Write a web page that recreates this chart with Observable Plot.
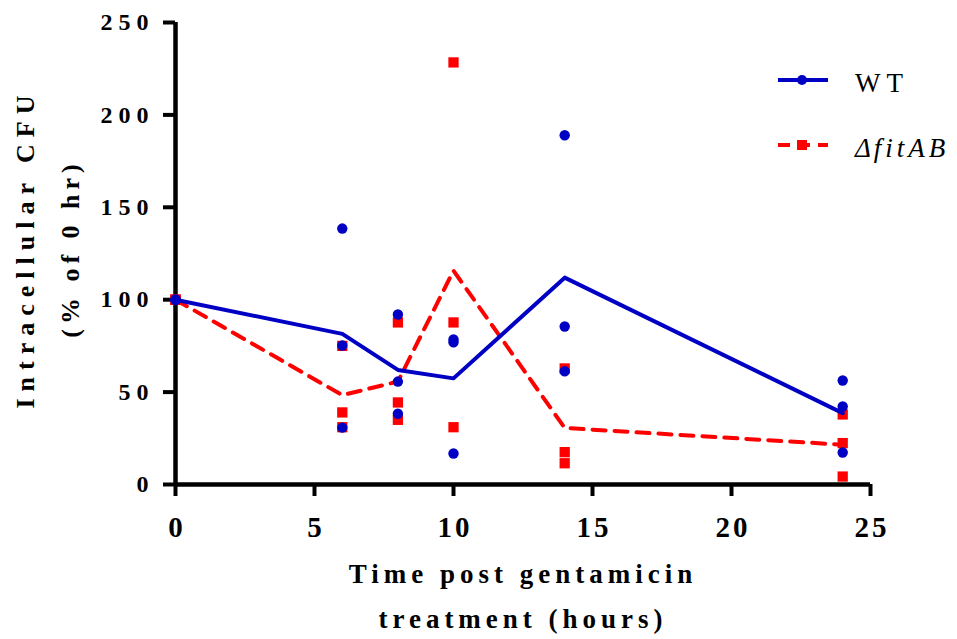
<!DOCTYPE html>
<html>
<head>
<meta charset="utf-8">
<script src="https://cdn.jsdelivr.net/npm/d3@7"></script>
<script src="https://cdn.jsdelivr.net/npm/@observablehq/plot@0.6"></script>
<style>
  html, body { margin: 0; padding: 0; background: #fff; }
  #wrap { position: relative; width: 957px; height: 639px; }
  #legend { position: absolute; left: 0; top: 0; width: 957px; height: 639px; pointer-events: none; }
  .lg-text { position: absolute; font-family: "Liberation Serif", "DejaVu Serif", "Noto Serif", serif; font-size: 27px; color: #000; line-height: 1; white-space: nowrap; }
  #chart svg text { font-family: "Liberation Serif", "DejaVu Serif", "Noto Serif", serif !important; }
</style>
</head>
<body>
<div id="wrap">
  <div id="chart"></div>
  <svg id="legend" width="957" height="639"></svg>
  <div class="lg-text" style="left:855px; top:70px; letter-spacing:6px;">WT</div>
  <div class="lg-text" style="left:855px; top:135px; font-style:italic; letter-spacing:3px;">Δ<span style="letter-spacing:4px">fitA</span>B</div>
</div>
<script>
// ---- data ----
const times = [0, 6, 8, 10, 14, 24];
const wtRep1 = [100, 138.5, 92.0, 77.0, 189.0, 56.3];
const wtRep2 = [100, 75.2, 55.7, 78.5, 85.5, 42.2];
const wtRep3 = [100, 30.8, 38.3, 16.8, 61.3, 17.3];
const fitRep1 = [100, 75.0, 87.7, 228.4, 62.8, 37.9];
const fitRep2 = [100, 39.0, 44.4, 87.7, 17.5, 22.4];
const fitRep3 = [100, 31.0, 35.0, 31.0, 11.5, 4.3];
const xTicks = [0, 5, 10, 15, 20, 25];
const yTicks = [0, 50, 100, 150, 200, 250];
const seriesNames = ["WT", "ΔfitAB"];

const blue = "#0000C4";
const red = "#FF0000";

function rows(series, reps) {
  const out = [];
  reps.forEach(rep => rep.forEach((v, i) => out.push({series, time: times[i], value: v})));
  return out;
}
const wt = rows(seriesNames[0], [wtRep1, wtRep2, wtRep3]);
const fit = rows(seriesNames[1], [fitRep1, fitRep2, fitRep3]);

const serif = "'Liberation Serif', 'DejaVu Serif', 'Noto Serif', serif";

const chart = Plot.plot({
  width: 957,
  height: 639,
  marginLeft: 175,
  marginRight: 87,
  marginTop: 22,
  marginBottom: 155,
  style: {fontFamily: serif, background: "white", overflow: "visible"},
  x: {domain: [0, 25]},
  y: {domain: [0, 250]},
  marks: [
    Plot.axisY({ticks: yTicks, tickSize: 12, tickPadding: 9, strokeWidth: 4, stroke: "#000",
      fontSize: 24, fontWeight: "bold", fill: "#000", label: null}),
    Plot.axisX({ticks: xTicks, tickSize: 12, tickPadding: 20, strokeWidth: 4, stroke: "#000",
      fontSize: 29, fontWeight: "bold", fill: "#000", label: null}),
    Plot.ruleX([0], {stroke: "#000", strokeWidth: 4.5}),
    Plot.ruleY([0], {stroke: "#000", strokeWidth: 4.5}),
    // ΔfitAB
    Plot.lineY(fit, Plot.groupX({y: "mean"}, {x: "time", y: "value", stroke: red, strokeWidth: 4, strokeDasharray: "13,9"})),
    Plot.dot(fit, {x: "time", y: "value", symbol: "square", r: 5.8, fill: red, stroke: "none"}),
    // WT
    Plot.lineY(wt, Plot.groupX({y: "mean"}, {x: "time", y: "value", stroke: blue, strokeWidth: 4})),
    Plot.dot(wt, {x: "time", y: "value", r: 5.2, fill: blue, stroke: "none"}),
    // axis titles
    Plot.text(["Time post gentamicin"], {frameAnchor: "bottom", dy: 98, fontSize: 27, fontWeight: "bold", fill: "#000"}),
    Plot.text(["treatment (hours)"], {frameAnchor: "bottom", dy: 143, fontSize: 27, fontWeight: "bold", fill: "#000"}),
    Plot.text(["Intracellular CFU"], {frameAnchor: "left", textAnchor: "middle", dx: -150, dy: -5, rotate: -90, fontSize: 26, fontWeight: "bold", fill: "#000", className: "ytitle1"}),
    Plot.text(["(% of 0 hr)"], {frameAnchor: "left", textAnchor: "middle", dx: -105, dy: -5, rotate: -90, fontSize: 26, fontWeight: "bold", fill: "#000", className: "ytitle2"})
  ]
});
document.getElementById("chart").appendChild(chart);

// letter-spacing styling
const s = d3.select(chart);
s.selectAll('g[aria-label="y-axis tick label"] text').style("letter-spacing", "6px");
s.selectAll('g[aria-label="x-axis tick label"] text').style("letter-spacing", "3px").attr("dx", "1.5");
s.selectAll('g[aria-label="text"] text').style("letter-spacing", "5px");
s.selectAll('.ytitle1 text').style("letter-spacing", "7px");
s.selectAll('.ytitle2 text').style("letter-spacing", "5px");

// legend swatches
const lg = d3.select("#legend");
lg.append("line").attr("x1", 778).attr("x2", 828).attr("y1", 80).attr("y2", 80).attr("stroke", blue).attr("stroke-width", 4);
lg.append("circle").attr("cx", 802).attr("cy", 80).attr("r", 5).attr("fill", blue);
lg.append("line").attr("x1", 778).attr("x2", 828).attr("y1", 145).attr("y2", 145).attr("stroke", red).attr("stroke-width", 4).attr("stroke-dasharray", "12,8");
lg.append("rect").attr("x", 797).attr("y", 140).attr("width", 10).attr("height", 10).attr("fill", red);
</script>
</body>
</html>
